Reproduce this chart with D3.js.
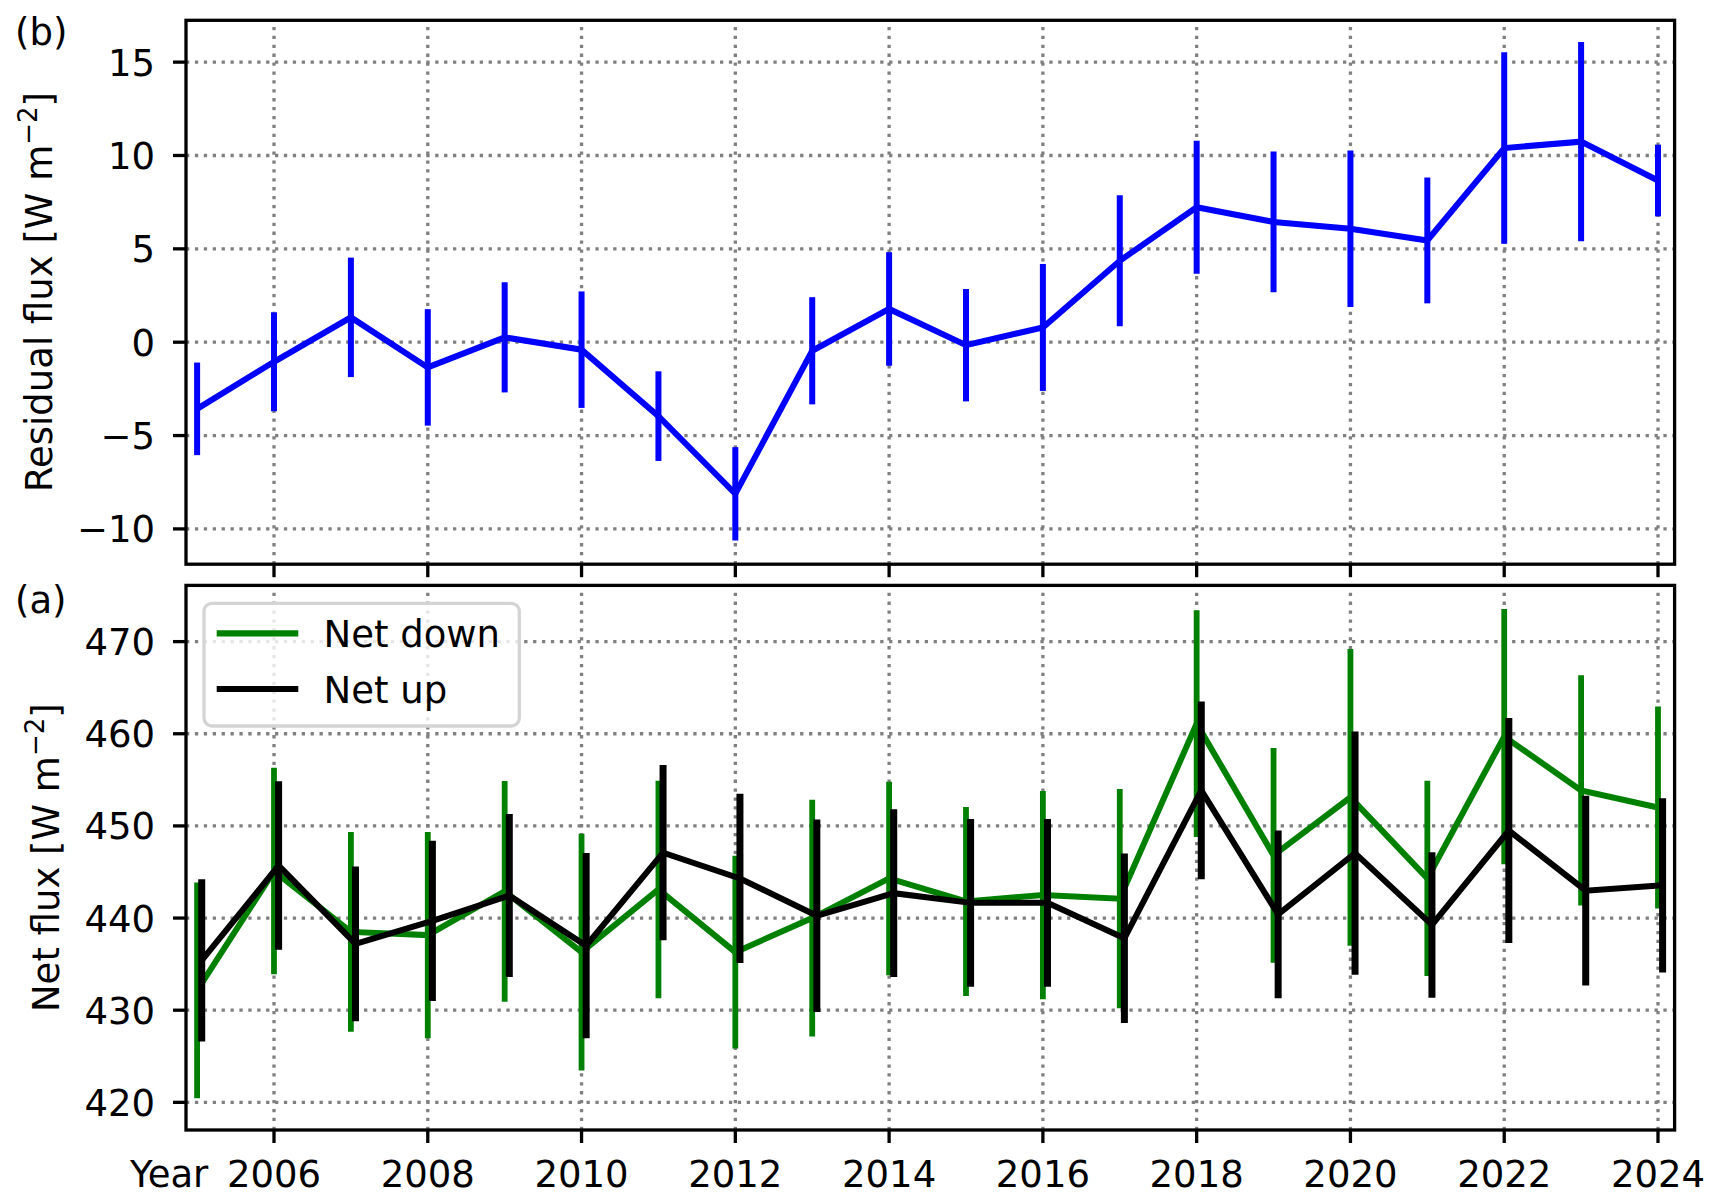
<!DOCTYPE html>
<html><head><meta charset="utf-8">
<script src="https://cdn.jsdelivr.net/npm/d3@7"></script>
<style>
body{margin:0;background:#fff}
text{font-family:"DejaVu Sans",sans-serif;fill:#000}
</style>
</head><body>
<svg id="chart" width="1721" height="1204"></svg>
<script>
// ---------------- data ----------------
const years = [2005,2006,2007,2008,2009,2010,2011,2012,2013,2014,2015,2016,2017,2018,2019,2020,2021,2022,2023,2024];
const residual    = [-3.57,-1.05,1.33,-1.35,0.26,-0.40,-3.96,-8.12,-0.46,1.78,-0.16,0.79,4.36,7.23,6.44,6.08,5.45,10.40,10.74,8.66];
const residualErr = [2.48,2.65,3.20,3.12,2.95,3.12,2.40,2.50,2.87,3.04,3.01,3.40,3.51,3.56,3.77,4.19,3.37,5.13,5.34,1.92];
const netDown     = [432.15,445.1,438.5,438.15,442.9,436.3,443.1,436.3,440.0,444.3,441.8,442.5,442.1,461.1,446.8,453.1,444.3,459.7,453.85,452.0];
const netDownErr  = [11.7,11.2,10.85,11.2,11.98,12.85,11.8,10.45,12.85,10.5,10.25,11.3,11.9,12.3,11.65,16.1,10.6,13.85,12.5,10.95];
const netUp       = [435.4,445.7,437.2,439.7,442.45,437.0,447.1,444.3,440.25,442.7,441.65,441.65,437.8,453.85,440.4,447.05,439.25,449.5,442.97,443.55];
const netUpErr    = [8.8,9.15,8.4,8.7,8.85,10.05,9.5,9.18,10.45,9.1,9.1,9.1,9.2,9.65,9.1,13.2,7.9,12.2,10.3,9.45];
const xTicks = [2006,2008,2010,2012,2014,2016,2018,2020,2022,2024];
const residualTicks = [-10,-5,0,5,10,15];
const netTicks = [420,430,440,450,460,470];
const legendLabels = ["Net down","Net up"];
const upOffset = 0.06; // small horizontal shift of the "Net up" series (years)

// ---------------- layout ----------------
const FS = 37;
const svg = d3.select("#chart");
const L = 186, R = 1674.6;
const x = d3.scaleLinear().domain([2004.8555, 2024.216]).range([L, R]);
const yTop = d3.scaleLinear().domain([-11.89, 17.24]).range([564.2, 20.3]);
const yBot = d3.scaleLinear().domain([417.0, 476.1]).range([1130, 585.4]);
const fmt = d => d < 0 ? "\u2212" + Math.abs(d) : String(d);
const GRID = "#808080", SPW = 3.3, TICK = 13;

function grid(y, yt) {
  const g = svg.append("g").attr("stroke", GRID).attr("stroke-width", 3.3).attr("stroke-dasharray", "3.3,5.6");
  const [y0, y1] = y.range();
  g.selectAll(null).data(xTicks).join("line")
    .attr("x1", d => x(d)).attr("x2", d => x(d)).attr("y1", y0).attr("y2", y1);
  g.selectAll(null).data(yt).join("line")
    .attr("x1", L).attr("x2", R).attr("y1", d => y(d)).attr("y2", d => y(d));
}

function series(xs, vals, errs, y, color, lw, elw, dx) {
  const pts = xs.map((v, i) => ({x: v + dx, v: vals[i], e: errs[i]}));
  svg.append("g").selectAll(null).data(pts).join("line")
    .attr("x1", d => x(d.x)).attr("x2", d => x(d.x))
    .attr("y1", d => y(d.v - d.e)).attr("y2", d => y(d.v + d.e))
    .attr("stroke", color).attr("stroke-width", elw);
  svg.append("path").datum(pts)
    .attr("d", d3.line().x(d => x(d.x)).y(d => y(d.v)))
    .attr("fill", "none").attr("stroke", color).attr("stroke-width", lw)
    .attr("stroke-linejoin", "miter");
}

function axes(y, yt, showX) {
  const [y0, y1] = y.range();
  const g = svg.append("g").attr("stroke", "#000").attr("stroke-width", SPW);
  g.selectAll(null).data(xTicks).join("line")
    .attr("x1", d => x(d)).attr("x2", d => x(d)).attr("y1", y0).attr("y2", y0 + TICK);
  g.selectAll(null).data(yt).join("line")
    .attr("x1", L - TICK).attr("x2", L).attr("y1", d => y(d)).attr("y2", d => y(d));
  svg.append("g").selectAll(null).data(yt).join("text")
    .attr("x", L - 31).attr("y", d => y(d)).attr("dy", "0.364em")
    .attr("text-anchor", "end").attr("font-size", FS).text(fmt);
  if (showX) {
    svg.append("g").selectAll(null).data(xTicks).join("text")
      .attr("x", d => x(d)).attr("y", 1187)
      .attr("text-anchor", "middle").attr("font-size", FS).text(d => d);
  }
  svg.append("rect").attr("x", L).attr("y", y1).attr("width", R - L).attr("height", y0 - y1)
    .attr("fill", "none").attr("stroke", "#000").attr("stroke-width", SPW);
}

// ----- top panel (b) -----
grid(yTop, residualTicks);
series(years, residual, residualErr, yTop, "#0000ff", 6.0, 6.0, 0);
axes(yTop, residualTicks, false);

// ----- bottom panel (a) -----
grid(yBot, netTicks);
series(years, netDown, netDownErr, yBot, "#008000", 6.0, 5.8, 0);
series(years, netUp, netUpErr, yBot, "#000000", 6.0, 7.0, upOffset);
axes(yBot, netTicks, true);

// legend
const lg = svg.append("g");
lg.append("rect").attr("x", 204).attr("y", 603.3).attr("width", 315.3).attr("height", 122.7)
  .attr("rx", 8).attr("ry", 8).attr("fill", "#fff").attr("fill-opacity", 0.8)
  .attr("stroke", "#d4d4d4").attr("stroke-width", 3.3);
const legColors = ["#008000", "#000000"];
const legY = [633.3, 689];
legendLabels.forEach((t, i) => {
  lg.append("line").attr("x1", 216.7).attr("x2", 298.3).attr("y1", legY[i]).attr("y2", legY[i])
    .attr("stroke", legColors[i]).attr("stroke-width", 6.2);
  lg.append("text").attr("x", 323.5).attr("y", legY[i] + 14).attr("font-size", FS).text(t);
});

// axis labels
function ylabel(tx, ty, main) {
  const t = svg.append("text").attr("transform", `translate(${tx},${ty}) rotate(-90)`)
    .attr("text-anchor", "middle").attr("font-size", FS);
  t.append("tspan").text(main + " [W m");
  t.append("tspan").attr("font-size", 26).attr("dy", -15).text("\u22122");
  t.append("tspan").attr("dy", 15).text("]");
}
ylabel(52, 292, "Residual flux");
ylabel(59, 857.7, "Net flux");

svg.append("text").attr("x", 130).attr("y", 1187).attr("font-size", FS).text("Year");
svg.append("text").attr("x", 15).attr("y", 45).attr("font-size", FS).text("(b)");
svg.append("text").attr("x", 15).attr("y", 613).attr("font-size", FS).text("(a)");
</script>
</body></html>
